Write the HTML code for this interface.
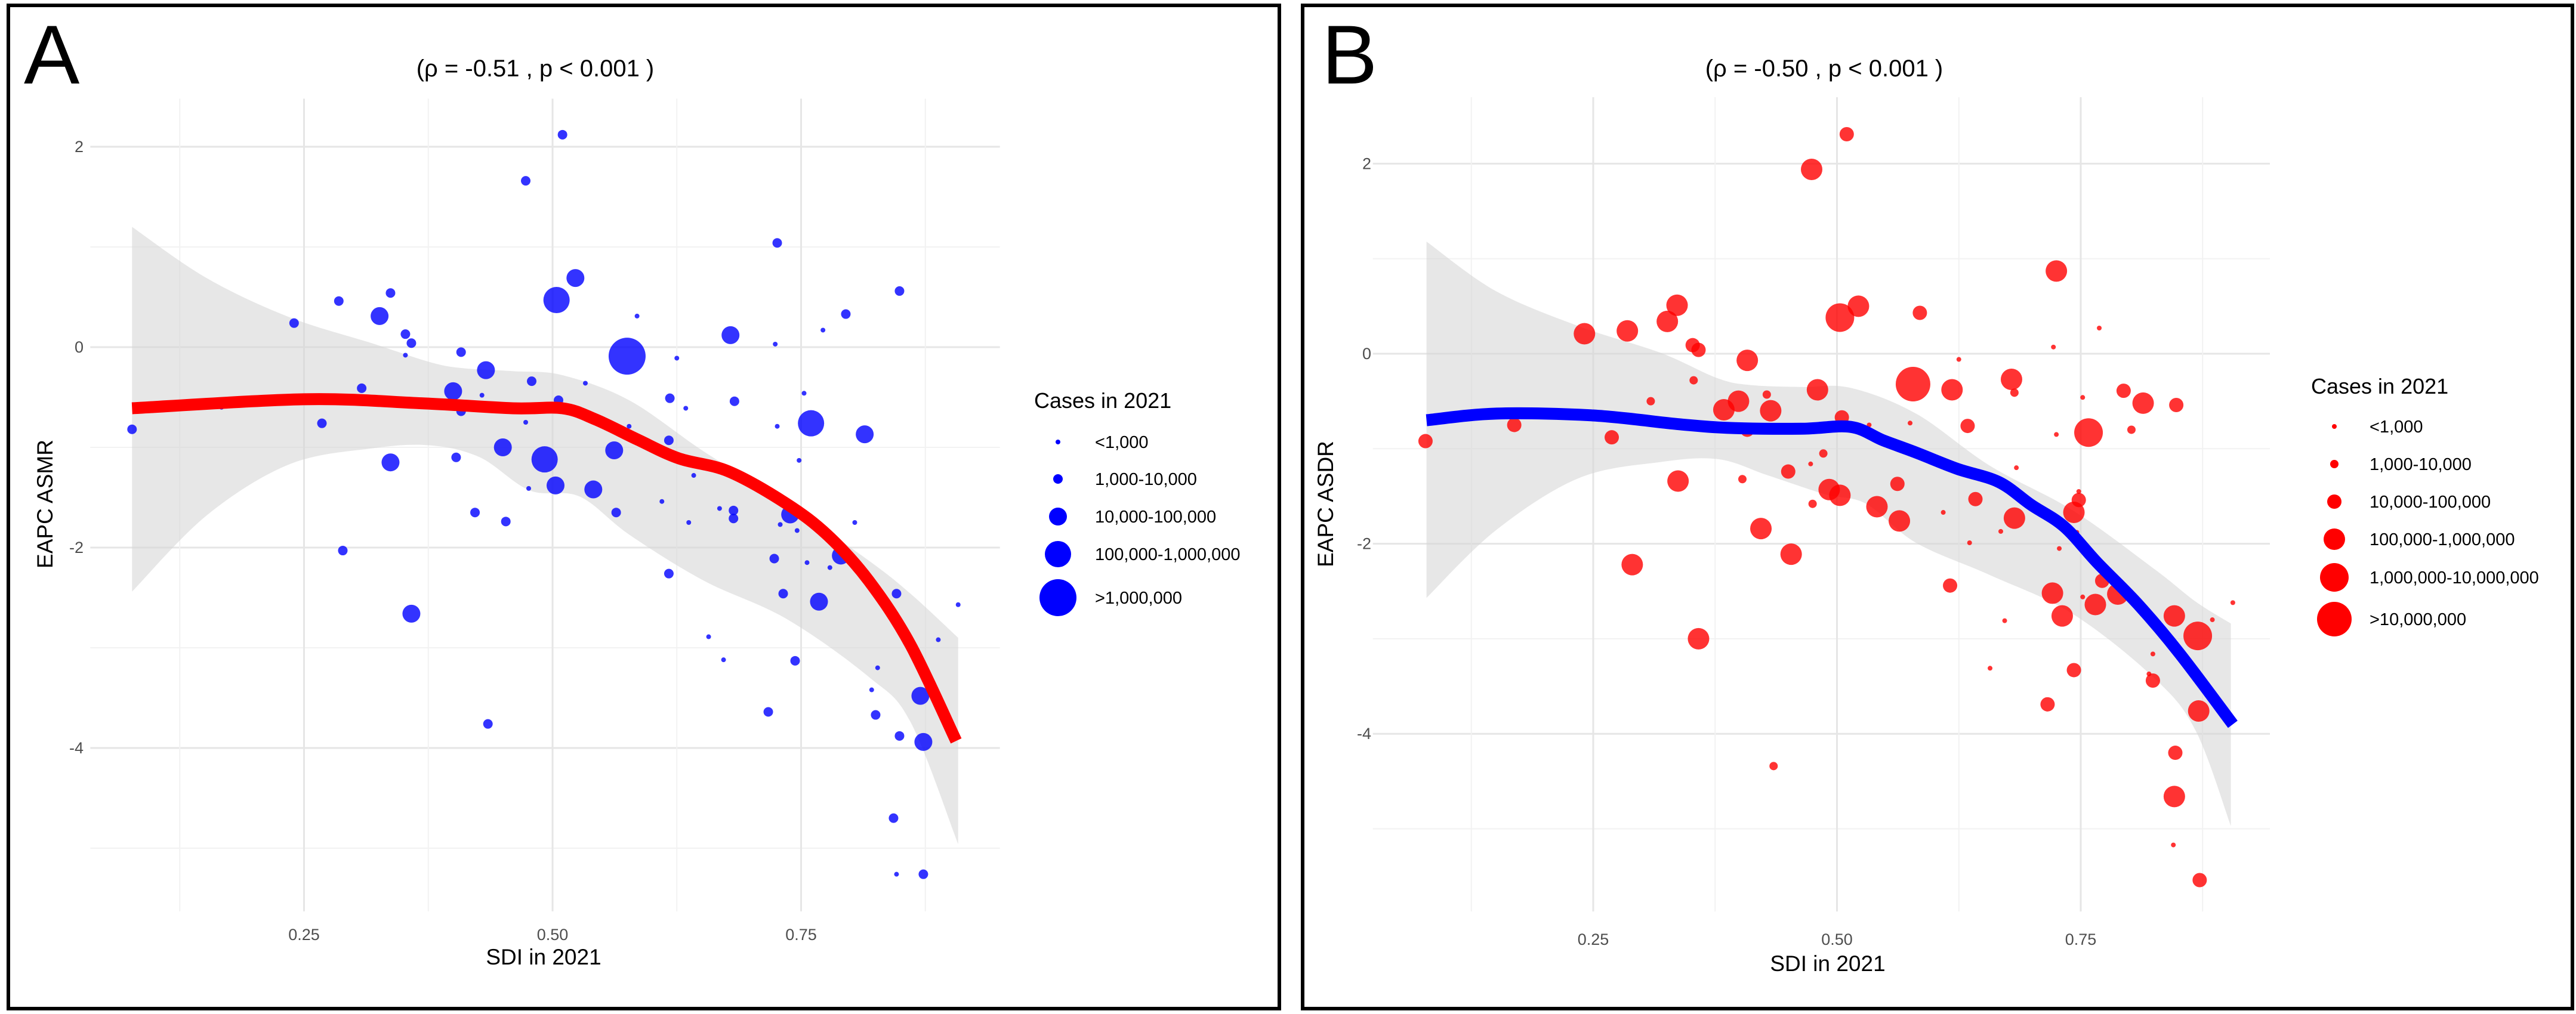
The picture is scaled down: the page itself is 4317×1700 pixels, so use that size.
<!DOCTYPE html>
<html><head><meta charset="utf-8">
<style>
html,body{margin:0;padding:0;background:#fff;}
svg{display:block;font-family:"Liberation Sans",Arial,sans-serif;}
</style></head>
<body>
<svg id="chart" width="4317" height="1700" viewBox="0 0 4317 1700" xmlns="http://www.w3.org/2000/svg">
<rect x="0" y="0" width="4317" height="1700" fill="#fff"/>
<rect x="14" y="9" width="2130" height="1682" fill="none" stroke="#000" stroke-width="6"/>
<rect x="2183" y="9" width="2128" height="1682" fill="none" stroke="#000" stroke-width="6"/>
<g id="pa"></g>
<g id="pb"></g>
</svg>
<script>
// ---------- Panel A data ----------
const aSdi = [0.077,0.167,0.24,0.285,0.289,0.268,0.308,0.326,0.337,0.337,0.352,0.358,0.352,0.358,0.40,0.408,0.408,0.403,0.422,0.433,0.429,0.435,0.45,0.453,0.473,0.479,0.473,0.476,0.492,0.503,0.504,0.506,0.51,0.523,0.533,0.541,0.564,0.562,0.575,0.585,0.577,0.61,0.618,0.617,0.617,0.625,0.634,0.637,0.642,0.657,0.672,0.668,0.679,0.683,0.682,0.682,0.717,0.723,0.724,0.726,0.726,0.729,0.732,0.739,0.744,0.746,0.748,0.753,0.756,0.76,0.768,0.772,0.779,0.79,0.795,0.804,0.814,0.821,0.825,0.827,0.843,0.846,0.846,0.849,0.849,0.87,0.873,0.873,0.888,0.908];
const aVal = [-0.82,-0.6,0.24,0.46,-2.03,-0.76,-0.41,0.31,0.54,-1.15,0.13,0.04,-0.08,-2.66,-0.44,-0.05,-0.64,-1.10,-1.65,-0.23,-0.48,-3.76,-1.0,-1.74,1.66,-0.34,-0.75,-1.41,-1.12,-1.38,0.47,-0.53,2.12,0.69,-0.36,-1.42,-1.65,-1.03,-0.09,0.31,-0.79,-1.54,-0.51,-0.93,-2.26,-0.11,-0.61,-1.75,-1.28,-2.89,-3.12,-1.61,0.12,-0.54,-1.63,-1.71,-3.64,-2.11,0.03,1.04,-0.79,-1.77,-2.46,-1.67,-3.13,-1.83,-1.13,-0.46,-2.15,-0.76,-2.54,0.17,-2.2,-2.08,0.33,-1.75,-0.87,-3.42,-3.67,-3.2,-4.7,-5.26,-2.46,0.56,-3.88,-3.48,-3.94,-5.26,-2.92,-2.57];
const aCat = [1,0,1,1,1,1,1,2,1,2,1,1,0,2,2,1,1,1,1,2,0,1,2,1,1,1,0,0,3,2,3,1,1,2,0,2,1,2,4,0,0,0,1,1,1,0,0,0,0,0,0,0,2,1,1,1,1,1,0,1,0,0,1,2,1,0,0,0,0,3,2,0,0,2,1,0,2,0,1,0,1,0,1,1,1,2,2,1,0,0];
const aFitX = [0.077,0.25,0.368,0.46,0.51,0.543,0.585,0.627,0.677,0.735,0.777,0.818,0.86,0.906];
const aFitY = [-0.61,-0.52,-0.56,-0.61,-0.61,-0.72,-0.92,-1.11,-1.24,-1.56,-1.88,-2.33,-2.97,-3.93];
const aUpX = [0.077,0.152,0.235,0.318,0.377,0.41,0.46,0.51,0.577,0.652,0.735,0.818,0.86,0.908];
const aUpY = [1.2,0.69,0.30,0.04,-0.15,-0.21,-0.24,-0.28,-0.53,-1.04,-1.56,-2.13,-2.46,-2.9];
const aLoX = [0.077,0.152,0.235,0.318,0.377,0.427,0.477,0.527,0.577,0.652,0.735,0.818,0.86,0.908];
const aLoY = [-2.44,-1.68,-1.17,-1.01,-0.98,-1.1,-1.43,-1.49,-1.87,-2.33,-2.71,-3.29,-3.74,-4.96];
const aLegend = ["<1,000","1,000-10,000","10,000-100,000","100,000-1,000,000",">1,000,000"];
const xTicks = [0.25,0.5,0.75];
const xTickLabels = ["0.25","0.50","0.75"];
const yTicks = [2,0,-2,-4];
const yTickLabels = ["2","0","-2","-4"];

// ---------- Panel B data ----------
const bSdi = [0.078,0.169,0.241,0.269,0.285,0.29,0.309,0.326,0.336,0.337,0.352,0.358,0.353,0.358,0.384,0.399,0.408,0.408,0.403,0.422,0.428,0.432,0.435,0.45,0.453,0.474,0.48,0.473,0.475,0.486,0.492,0.503,0.503,0.505,0.51,0.522,0.533,0.541,0.564,0.562,0.578,0.575,0.585,0.609,0.618,0.616,0.625,0.634,0.636,0.642,0.657,0.668,0.672,0.679,0.682,0.682,0.684,0.716,0.721,0.722,0.725,0.725,0.728,0.731,0.743,0.743,0.748,0.746,0.748,0.752,0.752,0.758,0.765,0.769,0.772,0.788,0.794,0.802,0.814,0.82,0.824,0.824,0.846,0.845,0.847,0.846,0.848,0.87,0.871,0.872,0.885,0.906];
const bVal = [-0.92,-0.75,0.21,-0.88,0.24,-2.22,-0.5,0.34,0.51,-1.34,0.09,0.04,-0.28,-3.0,-0.59,-0.5,-0.07,-0.8,-1.32,-1.84,-0.43,-0.6,-4.34,-1.24,-2.11,1.94,-0.38,-1.16,-1.58,-1.05,-1.43,-1.49,0.38,-0.67,2.31,0.5,-0.75,-1.61,-1.76,-1.37,-0.32,-0.73,0.43,-1.67,-0.38,-2.44,-0.06,-0.76,-1.99,-1.53,-3.31,-1.87,-2.81,-0.27,-0.41,-1.73,-1.2,-3.69,-2.52,0.07,0.87,-0.85,-2.05,-2.76,-3.33,-1.67,-1.54,-1.88,-1.45,-0.46,-2.56,-0.83,-2.64,0.27,-2.39,-2.53,-0.39,-0.8,-0.52,-3.37,-3.44,-3.16,-4.66,-5.17,-4.2,-2.76,-0.54,-2.97,-3.76,-5.54,-2.8,-2.62];
const bCat = [2,2,3,2,3,3,1,3,3,3,2,2,1,3,3,3,3,2,1,3,1,3,1,2,3,3,3,0,1,1,3,3,4,2,2,3,0,3,3,2,5,0,2,0,3,2,0,2,0,2,0,0,0,3,1,3,0,2,3,0,3,0,0,3,2,3,2,0,0,0,0,4,3,0,2,3,2,1,3,0,2,0,3,0,2,3,2,4,3,2,0,0];
const bFitX = [0.079,0.151,0.25,0.336,0.387,0.463,0.514,0.547,0.581,0.623,0.666,0.699,0.733,0.767,0.809,0.851,0.906];
const bFitY = [-0.7,-0.63,-0.65,-0.74,-0.78,-0.79,-0.77,-0.91,-1.04,-1.21,-1.35,-1.59,-1.82,-2.2,-2.64,-3.15,-3.9];
const bUpX = [0.079,0.15,0.235,0.319,0.378,0.412,0.463,0.514,0.581,0.657,0.742,0.826,0.868,0.904];
const bUpY = [1.18,0.66,0.29,0.01,-0.26,-0.33,-0.35,-0.36,-0.63,-1.18,-1.65,-2.27,-2.61,-2.84];
const bLoX = [0.079,0.15,0.235,0.319,0.378,0.429,0.488,0.53,0.581,0.657,0.742,0.826,0.868,0.904];
const bLoY = [-2.57,-1.86,-1.31,-1.14,-1.11,-1.28,-1.48,-1.58,-1.99,-2.33,-2.74,-3.42,-3.97,-4.97];
const bLegend = ["<1,000","1,000-10,000","10,000-100,000","100,000-1,000,000","1,000,000-10,000,000",">10,000,000"];

const NS = "http://www.w3.org/2000/svg";
function mk(parent, tag, attrs, text){
  const e = document.createElementNS(NS, tag);
  for (const k in attrs) e.setAttribute(k, attrs[k]);
  if (text !== undefined) e.textContent = text;
  parent.appendChild(e);
  return e;
}
// Catmull-Rom smooth path through points (continuing=true omits initial M)
function smooth(pts, continuing){
  let d = (continuing ? 'L' : 'M') + pts[0][0].toFixed(1) + ',' + pts[0][1].toFixed(1);
  for (let i = 0; i < pts.length - 1; i++){
    const p0 = pts[i-1] || pts[i], p1 = pts[i], p2 = pts[i+1], p3 = pts[i+2] || pts[i+1];
    const c1x = p1[0] + (p2[0]-p0[0])/6, c1y = p1[1] + (p2[1]-p0[1])/6;
    const c2x = p2[0] - (p3[0]-p1[0])/6, c2y = p2[1] - (p3[1]-p1[1])/6;
    d += 'C' + c1x.toFixed(1)+','+c1y.toFixed(1)+' '+c2x.toFixed(1)+','+c2y.toFixed(1)+' '+p2[0].toFixed(1)+','+p2[1].toFixed(1);
  }
  return d;
}

function panel(g, cfg){
  const X = s => cfg.x0 + cfg.kx * s;
  const Y = v => cfg.y0 - cfg.ky * v;
  for (let v = -5; v <= 2; v++){
    const l = mk(g,'line',{x1:X(cfg.gx0),x2:X(cfg.gx1),y1:Y(v),y2:Y(v),stroke:(v%2===0)?'#e6e6e6':'#f2f2f2','stroke-width':(v%2===0)?3:2});
    
    
  }
  for (let i = 1; i <= 7; i++){
    const s = i*0.125;
    const l = mk(g,'line',{x1:X(s),x2:X(s),y1:Y(cfg.gy0),y2:Y(cfg.gy1),stroke:(i%2===0)?'#e6e6e6':'#f2f2f2','stroke-width':(i%2===0)?3:2});
    
    
  }
  const up = cfg.upX.map((s,i)=>[X(s),Y(cfg.upY[i])]);
  const lo = cfg.loX.map((s,i)=>[X(s),Y(cfg.loY[i])]).reverse();
  const band = mk(g,'path',{d:smooth(up,false)+smooth(lo,true)+'Z',fill:'#d4d4d4','fill-opacity':0.55});
  
  
  cfg.sdi.forEach((s,i)=>{
    const c = mk(g,'circle',{cx:X(s),cy:Y(cfg.val[i]),r:cfg.radii[cfg.cat[i]],fill:cfg.color,'fill-opacity':0.8});
    
    
  });
  const fp = cfg.fitX.map((s,i)=>[X(s),Y(cfg.fitY[i])]);
  const fit = mk(g,'path',{d:smooth(fp,false),fill:'none',stroke:cfg.lineColor,'stroke-width':20,'stroke-linejoin':'round'});
  
  
  xTicks.forEach((t,i)=>{
    const tx = mk(g,'text',{x:X(t),y:cfg.xTickY,'font-size':27,fill:'#4d4d4d','text-anchor':'middle'},xTickLabels[i]);
    
    
  });
  yTicks.forEach((t,i)=>{
    const ty = mk(g,'text',{x:cfg.yTickX,y:Y(t)+9,'font-size':27,fill:'#4d4d4d','text-anchor':'end'},yTickLabels[i]);
    
    
  });
  const xt = mk(g,'text',{x:cfg.xTitle[0],y:cfg.xTitle[1],'font-size':37,fill:'#000','text-anchor':'middle'},'SDI in 2021');
  
  
  const yt = mk(g,'text',{x:0,y:0,'font-size':37,fill:'#000','text-anchor':'middle',transform:'translate('+cfg.yTitle[0]+','+cfg.yTitle[1]+') rotate(-90)'},cfg.yTitleText);
  
  
  const tt = mk(g,'text',{x:cfg.title[0],y:cfg.title[1],'font-size':40,fill:'#000','text-anchor':'middle'},cfg.titleText);
  
  
  const pl = mk(g,'text',{x:cfg.letter[0],y:cfg.letter[1],'font-size':140,fill:'#000'},cfg.letterText);
  
  
  const lt = mk(g,'text',{x:cfg.legX,y:cfg.legTitleY,'font-size':36,fill:'#000'},'Cases in 2021');
  
  
  cfg.legend.forEach((lab,i)=>{
    const yy = cfg.legY[i];
    const lc = mk(g,'circle',{cx:cfg.legCx,cy:yy,r:cfg.radii[i],fill:cfg.color});
    
    
    const ll = mk(g,'text',{x:cfg.legTx,y:yy+10,'font-size':29,fill:'#000'},lab);
    
    
  });
}

panel(document.getElementById('pa'),{
  x0:93,kx:1666,y0:582,ky:168,gx0:0.035,gx1:0.95,gy0:2.48,gy1:-5.63,
  upX:aUpX,upY:aUpY,loX:aLoX,loY:aLoY,sdi:aSdi,val:aVal,cat:aCat,
  fitX:aFitX,fitY:aFitY,radii:[4,8,15,22,31],color:'#0000ff',lineColor:'#ff0000',
  xTickY:1576,yTickX:140,xTitle:[911,1617],yTitle:[88,845],yTitleText:'EAPC ASMR',
  title:[897,128],titleText:'(\u03c1 = -0.51 , p < 0.001 )',letter:[40,140],letterText:'A',
  legend:aLegend,legX:1733,legTitleY:684,legY:[741,803,866,929,1002],legCx:1773,legTx:1835
});
panel(document.getElementById('pb'),{
  x0:2261.5,kx:1634,y0:593,ky:159.3,gx0:0.024,gx1:0.944,gy0:2.7,gy1:-5.87,
  upX:bUpX,upY:bUpY,loX:bLoX,loY:bLoY,sdi:bSdi,val:bVal,cat:bCat,
  fitX:bFitX,fitY:bFitY,radii:[4,7,12,18,24,29],color:'#ff0000',lineColor:'#0000ff',
  xTickY:1584,yTickX:2298,xTitle:[3063,1628],yTitle:[2234,845],yTitleText:'EAPC ASDR',
  title:[3057,128],titleText:'(\u03c1 = -0.50 , p < 0.001 )',letter:[2215,140],letterText:'B',
  legend:bLegend,legX:3873,legTitleY:660,legY:[715,778,841,904,968,1038],legCx:3912,legTx:3971
});
</script>
</body></html>
